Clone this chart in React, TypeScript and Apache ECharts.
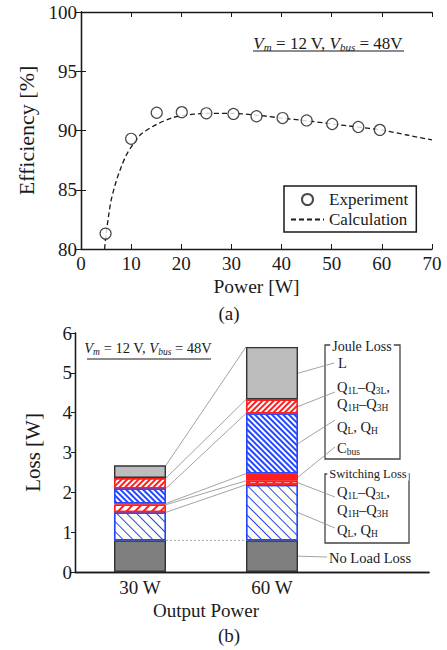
import React, { useEffect, useRef } from 'react';
import * as echarts from 'echarts';

// ---------- (a) Efficiency data ----------
const expPower = [4.9, 10, 15.1, 20.1, 25, 30.4, 35, 40.2, 45, 50.1, 55.3, 59.6];
const expEff = [81.3, 89.3, 91.5, 91.55, 91.45, 91.4, 91.2, 91.05, 90.85, 90.55, 90.3, 90.05];
const calcPower = [4.7, 5, 5.5, 6, 7, 8, 9, 10, 12, 15, 18, 20, 25, 30, 35, 40, 45, 50, 55, 60, 65, 70];
const calcEff = [80, 81.2, 82.8, 84.1, 85.7, 86.9, 87.9, 88.6, 89.7, 90.5, 91.05, 91.25, 91.45, 91.45, 91.3, 91.05, 90.82, 90.56, 90.3, 90.04, 89.62, 89.2];

// ---------- (b) Loss breakdown data ----------
const lossPowerLabels = ['30 W', '60 W'];
const noLoadLoss = [0.795, 0.795];
const swQLQH = [0.705, 1.395];
const swQ1Q3 = [0.19, 0.1];
const cbusLoss = [0.03, 0.18];
const jouleQLQH = [0.38, 1.51];
const jouleQ1Q3 = [0.26, 0.35];
const jouleL = [0.32, 1.32];

const SERIF = "'Liberation Serif', 'Times New Roman', serif";
const INK = '#1a1a1a';
const BLUE = '#2346ff';
const RED = '#ff1f1f';
const BAR_W = 52;

const segments = [noLoadLoss, swQLQH, swQ1Q3, cbusLoss, jouleQLQH, jouleQ1Q3, jouleL];

// layout: callout end points (px)
const calloutEnds = [
  [327, 557],
  [335, 528],
  [335, 497],
  [335, 447],
  [335, 420],
  [335, 392],
  [334, 363],
];

function rich(size: number, sub: number, lh: number) {
  return {
    n: { fontSize: size, fontFamily: SERIF, fill: INK, lineHeight: lh },
    i: { fontSize: size, fontFamily: SERIF, fontStyle: 'italic', fill: INK, lineHeight: lh },
    s: { fontSize: sub, fontFamily: SERIF, fill: INK, lineHeight: 8, verticalAlign: 'bottom' },
    si: { fontSize: sub, fontFamily: SERIF, fontStyle: 'italic', fill: INK, lineHeight: 8, verticalAlign: 'bottom' },
  };
}

function rtext(x: number, y: number, text: string, size = 14.5, sub = 9.5, align = 'left') {
  return {
    type: 'text',
    x,
    y,
    style: { text, rich: rich(size, sub, 18), align, verticalAlign: 'middle' },
  };
}

function buildOption() {
  const cum30: number[] = [];
  const cum60: number[] = [];
  const mids60: number[] = [];
  let a = 0;
  let b = 0;
  segments.forEach((s) => {
    mids60.push(b + s[1] / 2);
    a += s[0];
    b += s[1];
    cum30.push(a);
    cum60.push(b);
  });

  const axisLine = { show: true, lineStyle: { color: INK, width: 1.3 } };
  const tickIn = { show: true, inside: true, length: 5, lineStyle: { color: INK, width: 1 } };
  const lbl = { fontFamily: SERIF, fontSize: 19, color: INK };

  const bar = (name: string, values: number[], color: string, borderColor: string, decal?: any) => ({
    type: 'bar',
    name,
    stack: 'loss',
    xAxisIndex: 4,
    yAxisIndex: 4,
    barWidth: BAR_W,
    data: values,
    itemStyle: { color, borderColor, borderWidth: 1.4, decal },
    z: 3,
  });

  const decal = (color: string, w: number, gap: number, rot: number) => ({
    symbol: 'rect',
    symbolSize: 1,
    dashArrayX: [1, 0],
    dashArrayY: [w, gap],
    rotation: rot,
    color,
  });

  return {
    animation: false,
    grid: [
      { left: 81, top: 12, width: 351, height: 237 },
      { left: 75, top: 333, width: 354, height: 239 },
      { left: 74, top: 333, width: 264, height: 239 },
    ],
    legend: {
      data: [
        { name: 'Experiment' },
        { name: 'Calculation', itemStyle: { opacity: 0 } },
      ],
      left: 284,
      top: 186,
      orient: 'vertical',
      itemWidth: 33,
      itemHeight: 11,
      itemGap: 3,
      padding: [5, 8, 4, 6],
      borderColor: INK,
      borderWidth: 1.5,
      backgroundColor: '#fff',
      textStyle: { fontFamily: SERIF, fontSize: 17, color: INK },
    },
    xAxis: [
      {
        type: 'value', gridIndex: 0, min: 0, max: 70, interval: 10, position: 'bottom',
        axisLine, axisTick: tickIn, splitLine: { show: false },
        axisLabel: { ...lbl, margin: 5 },
        name: 'Power [W]', nameLocation: 'middle', nameGap: 27,
        nameTextStyle: { fontFamily: SERIF, fontSize: 19.5, color: INK },
      },
      {
        type: 'value', gridIndex: 0, min: 0, max: 70, interval: 10, position: 'top',
        axisLine, axisTick: tickIn, splitLine: { show: false }, axisLabel: { show: false },
      },
      {
        type: 'value', gridIndex: 1, min: 0, max: 1, position: 'bottom',
        axisLine, axisTick: { show: false }, splitLine: { show: false }, axisLabel: { show: false },
      },
      {
        type: 'value', gridIndex: 1, min: 0, max: 1, position: 'top',
        axisLine, axisTick: { show: false }, splitLine: { show: false }, axisLabel: { show: false },
      },
      {
        type: 'category', gridIndex: 2, data: lossPowerLabels, position: 'bottom',
        axisLine: { show: false }, axisTick: { show: false }, splitLine: { show: false },
        axisLabel: { ...lbl, margin: 6 },
      },
    ],
    yAxis: [
      {
        type: 'value', gridIndex: 0, min: 80, max: 100, interval: 5, position: 'left',
        axisLine, axisTick: tickIn, splitLine: { show: false },
        axisLabel: { ...lbl, margin: 4 },
        name: 'Efficiency [%]', nameLocation: 'middle', nameGap: 44,
        nameTextStyle: { fontFamily: SERIF, fontSize: 22, color: INK },
      },
      {
        type: 'value', gridIndex: 0, min: 80, max: 100, interval: 5, position: 'right',
        axisLine, axisTick: tickIn, splitLine: { show: false }, axisLabel: { show: false },
      },
      {
        type: 'value', gridIndex: 1, min: 0, max: 6, interval: 1, position: 'left',
        axisLine, axisTick: { show: false }, splitLine: { show: false },
        axisLabel: { ...lbl, margin: 3 },
        name: 'Loss [W]', nameLocation: 'middle', nameGap: 32,
        nameTextStyle: { fontFamily: SERIF, fontSize: 21, color: INK },
      },
      {
        type: 'value', gridIndex: 1, min: 0, max: 6, interval: 1, position: 'right',
        axisLine, axisTick: { ...tickIn, length: 4 }, splitLine: { show: false }, axisLabel: { show: false },
      },
      { type: 'value', gridIndex: 2, min: 0, max: 6, show: false },
    ],
    series: [
      {
        type: 'line',
        name: 'Calculation',
        xAxisIndex: 0,
        yAxisIndex: 0,
        data: calcPower.map((p, i) => [p, calcEff[i]]),
        symbol: 'none',
        smooth: 0.25,
        lineStyle: { color: INK, width: 1.3, type: [5, 3] },
        itemStyle: { color: INK },
        z: 2,
      },
      {
        type: 'scatter',
        name: 'Experiment',
        xAxisIndex: 0,
        yAxisIndex: 0,
        data: expPower.map((p, i) => [p, expEff[i]]),
        symbol: 'circle',
        symbolSize: 11,
        itemStyle: { color: '#fff', borderColor: INK, borderWidth: 1.2 },
        z: 3,
      },
      bar('No Load Loss', noLoadLoss, '#7f7f7f', '#333'),
      bar('Switching QL, QH', swQLQH, '#fffff6', BLUE, decal(BLUE, 1, 6, Math.PI / 4)),
      bar('Switching Q1L-Q3L', swQ1Q3, '#fff', RED, decal(RED, 1.5, 4, -Math.PI / 4)),
      bar('Cbus', cbusLoss, RED, RED),
      bar('Joule QL, QH', jouleQLQH, '#fff', BLUE, decal(BLUE, 1.2, 1.3, Math.PI / 4)),
      bar('Joule Q1L-Q3L', jouleQ1Q3, '#fff', RED, decal(RED, 1.6, 1.4, -Math.PI / 4)),
      bar('L', jouleL, '#bdbdbd', '#333'),
      {
        type: 'custom',
        name: 'connectors',
        xAxisIndex: 4,
        yAxisIndex: 4,
        encode: { x: 0, y: 1 },
        data: segments.map((_, k) => [0, cum30[k], cum60[k], k === 0 ? 1 : 0]),
        renderItem: (params: any, api: any) => {
          const p1 = api.coord([0, api.value(1)]);
          const p2 = api.coord([1, api.value(2)]);
          return {
            type: 'line',
            shape: { x1: p1[0] + BAR_W / 2, y1: p1[1], x2: p2[0] - BAR_W / 2, y2: p2[1] },
            style: { stroke: '#8c8c8c', lineWidth: 0.8, lineDash: api.value(3) ? [2, 2] : null },
          };
        },
        z: 1,
        silent: true,
      },
      {
        type: 'custom',
        name: 'callouts',
        xAxisIndex: 4,
        yAxisIndex: 4,
        encode: { x: 0, y: 1 },
        data: segments.map((_, k) => [1, mids60[k], k]),
        renderItem: (params: any, api: any) => {
          const p = api.coord([1, api.value(1)]);
          const end = calloutEnds[api.value(2)];
          return {
            type: 'line',
            shape: { x1: p[0] + BAR_W / 2, y1: p[1], x2: end[0], y2: end[1] },
            style: { stroke: '#8c8c8c', lineWidth: 0.8 },
          };
        },
        z: 1,
        silent: true,
        clip: false,
      },
    ],
    graphic: [
      rtext(328, 43, '{i|V}{si|m}{n| = 12 V, }{i|V}{si|bus}{n| = 48V}', 17, 11, 'center'),
      { type: 'line', shape: { x1: 253, y1: 51, x2: 404, y2: 51 }, style: { stroke: INK, lineWidth: 1.2 } },
      { type: 'text', x: 229, y: 313, style: { text: '(a)', fontFamily: SERIF, fontSize: 19, fill: INK, align: 'center', verticalAlign: 'middle' } },
      rtext(148, 348, '{i|V}{si|m}{n| = 12 V, }{i|V}{si|bus}{n| = 48V}', 14.5, 9.5, 'center'),
      { type: 'line', shape: { x1: 87, y1: 359, x2: 211, y2: 359 }, style: { stroke: INK, lineWidth: 1.1 } },
      { type: 'text', x: 206, y: 610, style: { text: 'Output Power', fontFamily: SERIF, fontSize: 19, fill: INK, align: 'center', verticalAlign: 'middle' } },
      { type: 'text', x: 229, y: 635, style: { text: '(b)', fontFamily: SERIF, fontSize: 19, fill: INK, align: 'center', verticalAlign: 'middle' } },
      { type: 'rect', shape: { x: 325, y: 345, width: 75, height: 114 }, style: { fill: 'none', stroke: '#444', lineWidth: 1.3 } },
      { type: 'rect', shape: { x: 325, y: 474, width: 84, height: 69 }, style: { fill: 'none', stroke: '#444', lineWidth: 1.3 } },
      { type: 'text', x: 362, y: 346, style: { text: 'Joule Loss', fontFamily: SERIF, fontSize: 14, fill: INK, align: 'center', verticalAlign: 'middle', backgroundColor: '#fff', padding: [0, 2] } },
      { type: 'text', x: 368, y: 474, style: { text: 'Switching Loss', fontFamily: SERIF, fontSize: 12.5, fill: INK, align: 'center', verticalAlign: 'middle', backgroundColor: '#fff', padding: [0, 2] } },
      rtext(338, 363, '{n|L}'),
      rtext(337, 387, '{n|Q}{s|1L}{n|–Q}{s|3L}{n|,}'),
      rtext(337, 404, '{n|Q}{s|1H}{n|–Q}{s|3H}'),
      rtext(337, 427, '{n|Q}{s|L}{n|, Q}{s|H}'),
      rtext(337, 448, '{n|C}{s|bus}'),
      rtext(337, 492, '{n|Q}{s|1L}{n|–Q}{s|3L}{n|,}'),
      rtext(337, 510, '{n|Q}{s|1H}{n|–Q}{s|3H}'),
      rtext(337, 530, '{n|Q}{s|L}{n|, Q}{s|H}'),
      rtext(329, 558, '{n|No Load Loss}'),
    ],
  };
}

export default function App() {
  const ref = useRef<HTMLDivElement>(null);
  useEffect(() => {
    document.body.style.margin = '0';
    const chart = echarts.init(ref.current!, null, { renderer: 'svg' });
    chart.setOption(buildOption() as any);
    return () => chart.dispose();
  }, []);
  return <div ref={ref} style={{ width: 447, height: 650, position: 'absolute', left: 0, top: 0, background: '#fff' }} />;
}
